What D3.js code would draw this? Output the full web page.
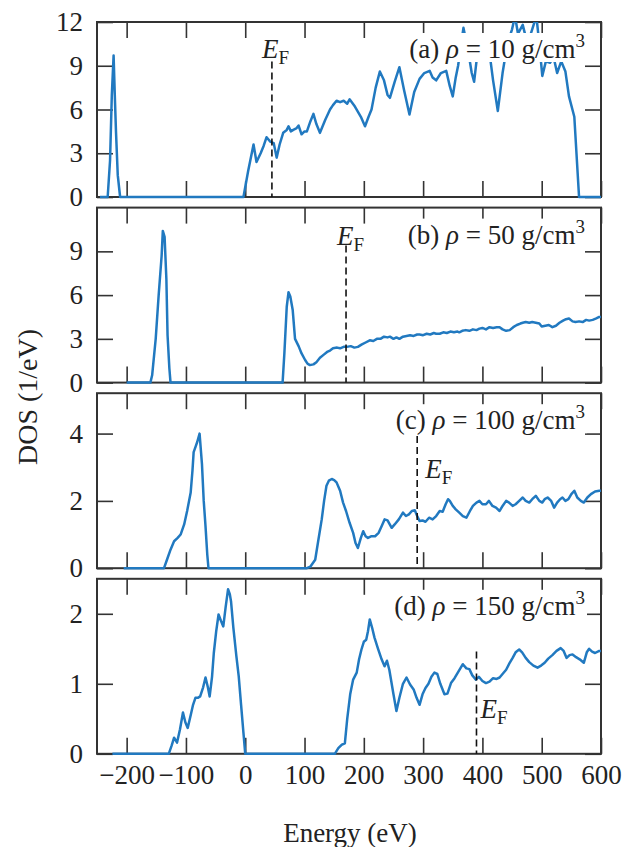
<!DOCTYPE html>
<html>
<head>
<meta charset="utf-8">
<script src="https://cdn.jsdelivr.net/npm/d3@7"></script>
<style>
  body { margin: 0; background: #fff; }
  text { font-family: "Liberation Serif", "DejaVu Serif", serif; fill: #222; }
</style>
</head>
<body>
<svg width="625" height="847"></svg>
<script>
// ---- data ----
const panelLetters = ["(a)", "(b)", "(c)", "(d)"];
const densities = [10, 50, 100, 150];            // g/cm3
const fermiEnergies = [45, 170, 290, 390];        // eV
const fermiLineTop = [9.3, 9.4, 3.93, 1.46];      // DOS value where the dashed line starts
const yMaxes = [12, 12, 5.2, 2.5];
const yTickValues = [[0, 3, 6, 9, 12], [0, 3, 6, 9], [0, 2, 4], [0, 1, 2]];
const xTickValues = [-200, -100, 0, 100, 200, 300, 400, 500, 600];

const dosA = [[-245,0],[-232,0],[-228,2.5],[-225,7],[-222,9.7],[-220,7],[-218,4.5],[-215,1.5],[-211,0],[-3,0],[5,1.8],[14,3.6],[19,2.4],[26,3.0],[31,3.5],[36,4.1],[42,3.8],[48,3.7],[53,2.7],[58,3.6],[64,4.4],[70,4.6],[73,4.85],[77,4.5],[81,4.6],[86,4.7],[90,4.9],[95,4.3],[100,4.5],[104,4.5],[110,5.2],[115,5.7],[120,5.0],[126,4.4],[135,5.3],[143,6.0],[148,6.3],[154,6.6],[160,6.5],[166,6.6],[172,6.4],[176,6.7],[185,6.2],[195,5.5],[202,4.85],[208,5.5],[213,6.0],[220,7.5],[227,8.6],[234,8.0],[240,7.0],[244,6.8],[252,7.9],[260,8.9],[268,7.3],[277,5.65],[285,7.2],[294,8.1],[302,8.5],[311,8.65],[316,8.2],[322,8.0],[330,8.5],[339,8.65],[345,7.6],[350,6.9],[355,8.2],[359,9.0],[368,11.6],[376,10],[382,8.5],[386,7.9],[392,10],[400,11],[410,10.5],[418,8],[426,5.9],[434,8.5],[442,10.5],[450,11.5],[455,12.4],[460,11.2],[468,11.8],[476,10.5],[484,11.5],[491,12.4],[496,10.5],[501,8.3],[507,9.3],[514,9.2],[520,9.6],[526,8.5],[533,9.3],[540,8.6],[546,6.9],[555,5.5],[563,0],[600,0]];

const dosB = [[-200,0],[-160,0],[-157,0.5],[-151,3.0],[-146,6.0],[-141,8.7],[-139,10.4],[-136,10],[-133,7.1],[-131,3.25],[-128,1],[-126,0],[63,0],[66,2],[70,5.2],[73,6.2],[76,5.9],[80,5.0],[84,3.0],[90,2.5],[95,2.0],[101,1.55],[105,1.3],[109,1.2],[115,1.25],[120,1.4],[126,1.7],[132,1.9],[138,2.1],[143,2.2],[148,2.35],[155,2.4],[160,2.35],[166,2.45],[171,2.45],[178,2.5],[184,2.4],[190,2.45],[196,2.6],[203,2.75],[210,2.9],[216,2.85],[222,3.0],[228,3.0],[234,3.15],[240,3.1],[244,3.15],[250,3.0],[255,3.1],[260,3.0],[266,3.15],[272,3.2],[278,3.25],[284,3.2],[290,3.3],[294,3.3],[300,3.25],[306,3.35],[312,3.3],[318,3.4],[322,3.35],[328,3.35],[334,3.45],[340,3.4],[346,3.5],[352,3.45],[358,3.5],[361,3.45],[366,3.55],[372,3.6],[378,3.55],[384,3.65],[390,3.6],[395,3.7],[400,3.75],[406,3.65],[412,3.8],[418,3.75],[424,3.8],[429,3.8],[434,3.65],[440,3.55],[446,3.6],[452,3.8],[458,3.95],[464,4.05],[468,4.1],[473,4.15],[479,4.1],[484,4.15],[490,4.1],[496,4.05],[500,3.85],[506,3.9],[512,3.95],[518,3.8],[524,3.9],[530,4.1],[536,4.25],[541,4.35],[546,4.4],[552,4.2],[557,4.15],[563,4.2],[569,4.15],[575,4.3],[580,4.25],[586,4.3],[592,4.4],[597,4.5],[600,4.5]];

const dosC = [[-205,0],[-137,0],[-132,0.25],[-126,0.55],[-120,0.8],[-114,0.9],[-109,1.0],[-103,1.3],[-98,1.7],[-92,2.25],[-89,2.9],[-87,3.45],[-84,3.6],[-81,3.75],[-77,4.0],[-73,3.1],[-70,2.0],[-67,1.25],[-64,0.4],[-62,0],[104,0],[110,0.05],[118,0.25],[123,0.8],[129,1.45],[133,2.0],[137,2.45],[141,2.6],[146,2.65],[150,2.62],[154,2.55],[160,2.3],[165,1.95],[170,1.7],[176,1.35],[182,1.05],[186,0.75],[190,0.6],[195,0.9],[199,1.1],[203,0.95],[207,0.9],[213,0.95],[219,0.95],[225,1.05],[230,1.25],[235,1.45],[240,1.42],[247,1.2],[252,1.3],[259,1.45],[266,1.65],[271,1.55],[276,1.6],[281,1.7],[286,1.72],[290,1.55],[294,1.4],[299,1.42],[304,1.38],[310,1.5],[316,1.45],[322,1.55],[328,1.7],[333,1.68],[338,1.9],[342,2.05],[345,2.0],[350,1.85],[355,1.75],[361,1.65],[367,1.55],[373,1.5],[379,1.7],[384,1.85],[390,1.95],[395,2.0],[400,1.9],[406,1.9],[411,2.0],[417,1.85],[423,1.8],[429,1.7],[434,1.85],[440,2.0],[445,1.95],[451,1.85],[456,1.9],[462,2.0],[468,2.1],[473,2.0],[479,1.95],[484,2.05],[490,2.15],[496,2.0],[501,1.95],[505,2.05],[510,2.1],[516,2.0],[521,1.8],[526,1.95],[531,2.05],[535,2.1],[540,2.0],[545,2.05],[550,2.2],[555,2.3],[560,2.1],[566,2.0],[571,1.95],[577,2.1],[583,2.2],[590,2.28],[597,2.3],[600,2.3]];

const dosD = [[-224,0],[-129,0],[-124,0.12],[-120,0.23],[-115,0.16],[-110,0.35],[-105,0.59],[-101,0.45],[-97,0.37],[-92,0.55],[-88,0.7],[-84,0.8],[-80,0.8],[-76,0.82],[-71,0.95],[-67,1.09],[-63,0.95],[-60,0.82],[-56,1.1],[-53,1.44],[-49,1.75],[-45,1.99],[-41,1.9],[-37,1.82],[-33,2.1],[-29,2.35],[-26,2.28],[-24,2.18],[-20,1.8],[-15,1.4],[-11,1.11],[-7,0.7],[-3,0.3],[0,0],[151,0],[157,0.08],[163,0.13],[168,0.15],[172,0.5],[177,0.85],[182,1.06],[188,1.16],[192,1.35],[196,1.49],[200,1.6],[204,1.63],[207,1.75],[210,1.92],[214,1.8],[218,1.66],[224,1.5],[230,1.35],[235,1.25],[239,1.33],[243,1.2],[250,0.85],[255,0.61],[260,0.8],[266,1.0],[272,1.09],[278,0.99],[284,0.92],[289,0.8],[294,0.7],[299,0.85],[304,0.94],[309,1.0],[314,1.1],[319,1.16],[324,1.14],[329,1.0],[336,0.85],[341,0.86],[347,1.01],[353,1.08],[360,1.18],[367,1.28],[373,1.22],[378,1.21],[383,1.12],[389,1.06],[394,1.1],[400,1.04],[406,1.01],[412,1.03],[418,1.08],[424,1.07],[429,1.09],[435,1.15],[440,1.2],[446,1.3],[451,1.37],[456,1.45],[462,1.49],[467,1.45],[473,1.37],[479,1.31],[486,1.26],[493,1.23],[499,1.26],[505,1.3],[511,1.36],[518,1.41],[525,1.47],[532,1.51],[537,1.47],[542,1.37],[547,1.41],[552,1.42],[558,1.38],[564,1.35],[571,1.3],[576,1.45],[580,1.5],[585,1.46],[590,1.44],[597,1.47],[600,1.47]];

const series = [dosA, dosB, dosC, dosD];

// ---- layout ----
const svg = d3.select("svg");
const left = 97, right = 601;
const top0 = 22, panelH = 175, step = 185.6;
const tickLen = 16;
const fontSize = 27;
const lineColor = "#2179c0";
const frameColor = "#333";

// where the E_F label sits relative to the dashed line (px) and its baseline (px from panel top)
const efLabelDx = [-10, -9, 8, 4];
const efLabelY = [36, 37, 85, 139];

const x = d3.scaleLinear().domain([-250, 600]).range([left, right]);

series.forEach((data, i) => {
  const g = svg.append("g").attr("transform", `translate(0,${top0 + i * step})`);
  const y = d3.scaleLinear().domain([0, yMaxes[i]]).range([panelH, 0]);

  g.append("clipPath").attr("id", "clip" + i)
    .append("rect").attr("x", left - 2).attr("y", 0).attr("width", right - left + 4).attr("height", panelH + 3);

  // ticks on all four sides, pointing inward
  const styleAxis = sel => {
    sel.select(".domain").remove();
    sel.selectAll(".tick line").attr("stroke", frameColor).attr("stroke-width", 1.6);
    sel.selectAll("text").attr("font-family", "Liberation Serif").attr("font-size", fontSize).attr("fill", "#222");
  };

  g.append("g").attr("transform", `translate(0,${panelH})`)
    .call(d3.axisBottom(x).tickValues(xTickValues).tickSize(-tickLen).tickPadding(11)
      .tickFormat(i === 3 ? d3.format("") : () => ""))
    .call(styleAxis);
  g.append("g")
    .call(d3.axisTop(x).tickValues(xTickValues).tickSize(-tickLen).tickFormat(() => ""))
    .call(styleAxis);
  g.append("g").attr("transform", `translate(${left},0)`)
    .call(d3.axisLeft(y).tickValues(yTickValues[i]).tickSize(-tickLen).tickPadding(14)
      .tickFormat(d3.format("")))
    .call(styleAxis);
  g.append("g").attr("transform", `translate(${right},0)`)
    .call(d3.axisRight(y).tickValues(yTickValues[i]).tickSize(-tickLen).tickFormat(() => ""))
    .call(styleAxis);

  // frame
  g.append("rect")
    .attr("x", left).attr("y", 0)
    .attr("width", right - left).attr("height", panelH)
    .attr("fill", "none").attr("stroke", frameColor).attr("stroke-width", 2);

  // DOS curve (drawn over the frame, as in the original)
  const line = d3.line().x(d => x(d[0])).y(d => y(d[1]));
  g.append("path")
    .datum(data)
    .attr("clip-path", `url(#clip${i})`)
    .attr("fill", "none")
    .attr("stroke", lineColor)
    .attr("stroke-width", 2.5)
    .attr("stroke-linejoin", "round")
    .attr("d", line);

  // Fermi energy dashed line
  g.append("line")
    .attr("x1", x(fermiEnergies[i])).attr("x2", x(fermiEnergies[i]))
    .attr("y1", y(fermiLineTop[i])).attr("y2", panelH)
    .attr("stroke", "#111").attr("stroke-width", 1.6)
    .attr("stroke-dasharray", "7,4");

  const ef = g.append("text")
    .attr("x", x(fermiEnergies[i]) + efLabelDx[i])
    .attr("y", efLabelY[i])
    .attr("font-size", fontSize);
  ef.append("tspan").attr("font-style", "italic").text("E");
  ef.append("tspan").attr("dy", 6).attr("font-size", 19).text("F");

  // panel label with a white box behind it
  const lab = g.append("text")
    .attr("x", 585).attr("y", 36)
    .attr("text-anchor", "end")
    .attr("font-size", fontSize);
  lab.append("tspan").text(panelLetters[i] + " ");
  lab.append("tspan").attr("font-style", "italic").text("ρ");
  lab.append("tspan").text(` = ${densities[i]} g/cm`);
  lab.append("tspan").attr("dy", -11).attr("font-size", 19).text("3");
  const bb = lab.node().getBBox();
  g.insert("rect", () => lab.node())
    .attr("x", bb.x - 2).attr("y", bb.y + 3)
    .attr("width", bb.width + 4).attr("height", bb.height - 5)
    .attr("fill", "#fff");
});

// axis titles
svg.append("text")
  .attr("x", 350).attr("y", 842)
  .attr("text-anchor", "middle")
  .attr("font-size", fontSize)
  .text("Energy (eV)");

svg.append("text")
  .attr("transform", "translate(37,397) rotate(-90)")
  .attr("text-anchor", "middle")
  .attr("font-size", 28)
  .text("DOS (1/eV)");
</script>
</body>
</html>
